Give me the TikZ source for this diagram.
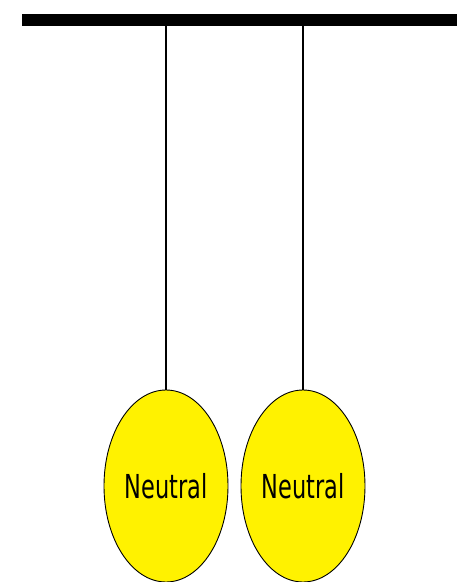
\documentclass[tikz,border=0pt]{standalone}
\usepackage{fontspec}
\newfontfamily\labelfont[FakeStretch=0.68]{DejaVu Sans}
\usetikzlibrary{shapes.geometric}
\begin{document}
\begin{tikzpicture}[x=1pt,y=-1pt,
ball/.style={draw, fill = yellow, ellipse, line width=0.9pt, minimum width=124pt, minimum height=192pt, inner sep=0pt, font=\labelfont\fontsize{33}{36}\selectfont}]
\useasboundingbox (0,0) rectangle (457,582);
\draw[line width=12pt] (22,20) -- (457,20);
\coordinate (hookA) at (166,20);
\coordinate (hookB) at (303,20);
\node [ball] (ballA) at (166,486){Neutral};
\node [ball] (ballB) at (303,486){Neutral};
\draw[line width=1.1pt] (hookA) -- (ballA.north) (hookB) -- (ballB.north);
\end{tikzpicture}
\end{document}
